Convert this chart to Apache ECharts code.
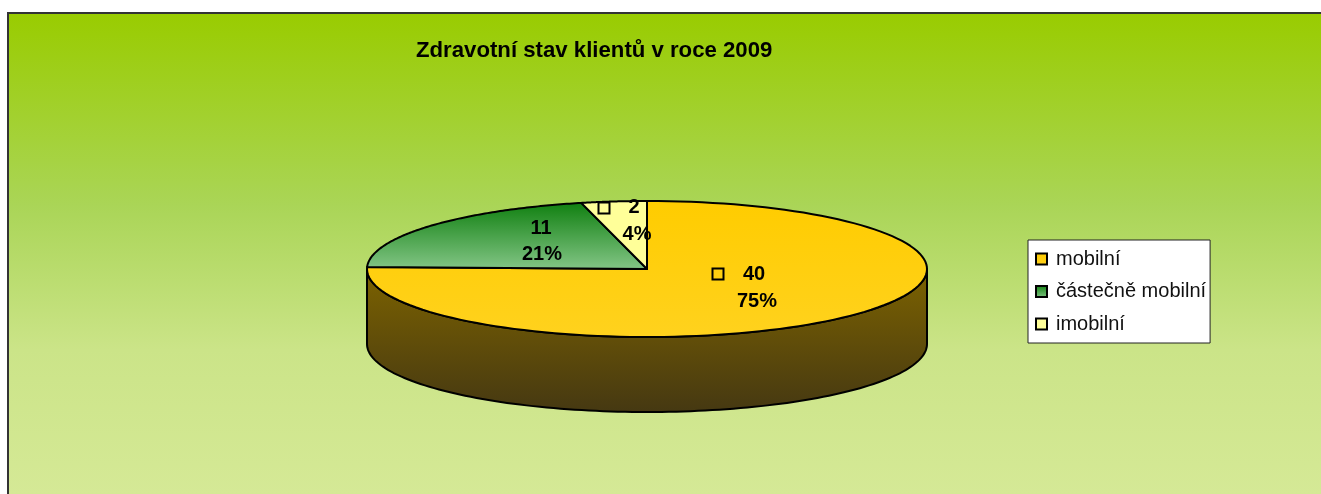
<!DOCTYPE html>
<html>
<head>
<meta charset="utf-8">
<title>Zdravotní stav klientů v roce 2009</title>
<style>
html, body { margin: 0; padding: 0; background: #fff; }
#chart { width: 1321px; height: 494px; }
</style>
<script src="https://cdn.jsdelivr.net/npm/echarts@6/dist/echarts.min.js"></script>
</head>
<body>
<div id="chart"></div>
<script>
// data
var chartTitle = 'Zdravotní stav klientů v roce 2009';
var categories = ['mobilní', 'částečně mobilní', 'imobilní'];
var clientCounts = [40, 11, 2];
var percentLabels = ['75%', '21%', '4%'];

// pie geometry, the pie is tilted so it is an ellipse with a wall below
var cx = 647, cy = 269, rx = 280, ry = 68, depth = 75;
var fontName = '"Liberation Sans", Arial, sans-serif';

function vGrad(top, bottom) {
    return new echarts.graphic.LinearGradient(0, 0, 0, 1, [
        { offset: 0, color: top },
        { offset: 1, color: bottom }
    ]);
}

var sliceFills = [
    vGrad('#ffcc00', '#ffd21e'),
    vGrad('#0f7f0f', '#84c687'),
    vGrad('#ffff99', '#ffff99')
];
// where each label goes relative to the pie centre [count, percent, key square]
var labelSpots = [
    { count: [107, 5], pct: [110, 32], key: [71, 5] },
    { count: [-106, -41], pct: [-105, -15], key: null },
    { count: [-13, -62], pct: [-10, -35], key: [-43, -61] }
];

var total = 0;
for (var i = 0; i < clientCounts.length; i++) {
    total += clientCounts[i];
}

function ellipsePoint(a, yOffset) {
    return [cx + rx * Math.sin(a), cy + yOffset - ry * Math.cos(a)];
}

function renderSlice(params, api) {
    var idx = params.seriesIndex - 1;
    var before = 0;
    for (var i = 0; i < idx; i++) {
        before += clientCounts[i];
    }
    var start = before / total * Math.PI * 2;
    var end = (before + api.value(0)) / total * Math.PI * 2;

    var pts = [[cx, cy]];
    var steps = 120;
    for (var s = 0; s <= steps; s++) {
        pts.push(ellipsePoint(start + (end - start) * s / steps, 0));
    }

    var spot = labelSpots[idx];
    var children = [{
        type: 'polygon',
        z2: 1,
        shape: { points: pts },
        style: { fill: sliceFills[idx], stroke: '#000', lineWidth: 2, lineJoin: 'round' }
    }];
    var texts = [[String(api.value(0)), spot.count], [percentLabels[idx], spot.pct]];
    for (var t = 0; t < texts.length; t++) {
        children.push({
            type: 'text',
            z2: 5,
            style: {
                x: cx + texts[t][1][0],
                y: cy + texts[t][1][1],
                text: texts[t][0],
                fill: '#000',
                font: 'bold 20px ' + fontName,
                align: 'center',
                verticalAlign: 'middle'
            }
        });
    }
    if (spot.key) {
        children.push({
            type: 'rect',
            z2: 5,
            shape: { x: cx + spot.key[0] - 5.5, y: cy + spot.key[1] - 5.5, width: 11, height: 11 },
            style: { fill: 'none', stroke: '#000', lineWidth: 2 }
        });
    }
    return { type: 'group', children: children };
}

function renderWall() {
    var pts = [];
    var steps = 120;
    for (var s = 0; s <= steps; s++) {
        pts.push(ellipsePoint(Math.PI / 2 + Math.PI * s / steps, 0));
    }
    for (var s2 = steps; s2 >= 0; s2--) {
        pts.push(ellipsePoint(Math.PI / 2 + Math.PI * s2 / steps, depth));
    }
    return {
        type: 'polygon',
        shape: { points: pts },
        style: { fill: vGrad('#7d6300', '#453812'), stroke: '#000', lineWidth: 2, lineJoin: 'round' }
    };
}

var seriesList = [{
    type: 'custom',
    name: 'wall',
    coordinateSystem: 'none',
    silent: true,
    z: 1,
    renderItem: renderWall,
    data: [[0]]
}];
for (var j = 0; j < categories.length; j++) {
    seriesList.push({
        type: 'custom',
        name: categories[j],
        coordinateSystem: 'none',
        silent: true,
        z: 2 + j,
        itemStyle: { color: sliceFills[j] },
        renderItem: renderSlice,
        data: [[clientCounts[j]]]
    });
}

var chart = echarts.init(document.getElementById('chart'));
chart.setOption({
    animation: false,
    backgroundColor: '#fff',
    title: {
        text: chartTitle,
        left: 416,
        top: 40,
        padding: 0,
        textStyle: { fontFamily: fontName, fontWeight: 'bold', fontSize: 22.2, color: '#000' }
    },
    legend: {
        data: categories,
        orient: 'vertical',
        left: 1028,
        top: 240,
        selectedMode: false,
        backgroundColor: '#fff',
        borderColor: '#222',
        borderWidth: 1,
        padding: [9, 4, 9, 7],
        itemWidth: 11,
        itemHeight: 11,
        itemGap: 12.5,
        icon: 'rect',
        itemStyle: { borderColor: '#000', borderWidth: 2 },
        textStyle: { fontFamily: fontName, fontSize: 20, color: '#111', padding: [0, 0, 0, 4] }
    },
    graphic: [
        {
            type: 'rect',
            z: -10,
            silent: true,
            shape: { x: 8, y: 13, width: 1313, height: 481 },
            style: {
                fill: new echarts.graphic.LinearGradient(0, 0, 0, 1, [
                    { offset: 0, color: '#99cc00' },
                    { offset: 0.4, color: '#aad557' },
                    { offset: 0.7, color: '#cbe488' },
                    { offset: 1, color: '#d5e996' }
                ])
            }
        },
        {
            type: 'polyline',
            z: -9,
            silent: true,
            shape: { points: [[8, 494], [8, 13], [1321, 13]] },
            style: { fill: 'none', stroke: '#333', lineWidth: 2 }
        }
    ],
    series: seriesList
});
</script>
</body>
</html>
